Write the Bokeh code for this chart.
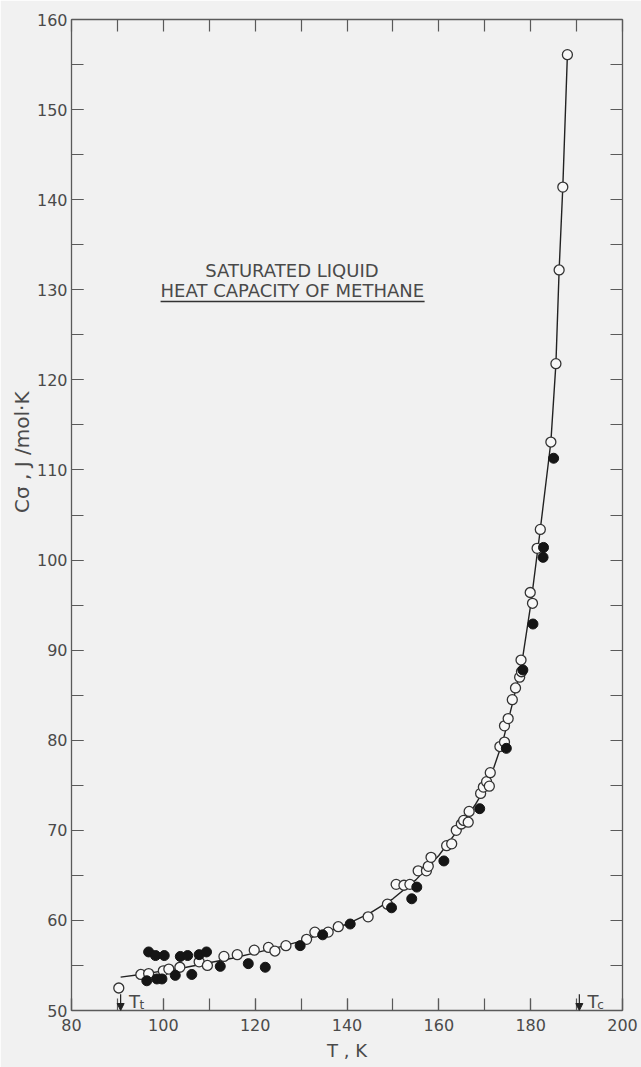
from bokeh.plotting import figure
from bokeh.models import (Range1d, LinearAxis, SingleIntervalTicker, FixedTicker, Label, Arrow,
                          NormalHead, Title)
from bokeh.embed import file_html
from bokeh.resources import INLINE

# ---- data ----
open_T = [90.3, 95.1, 96.8, 100.0, 101.2, 103.6, 107.8, 109.6, 113.2, 116.1, 119.8, 122.9, 124.3,
          126.7, 131.2, 133.0, 135.9, 138.1, 144.6, 148.8, 150.7, 152.4, 153.7, 155.5, 157.3, 157.7,
          158.3, 161.7, 162.8, 163.8, 164.9, 165.4, 166.4, 166.6, 169.1, 169.7, 170.4, 171.0, 171.2,
          173.3, 174.3, 174.3, 175.1, 176.0, 176.7, 177.6, 178.0, 177.9, 179.9, 180.4, 181.4, 182.1,
          184.4, 185.5, 186.2, 187.0, 188.0]
open_C = [52.5, 54.0, 54.1, 54.4, 54.6, 54.8, 55.4, 55.0, 56.0, 56.2, 56.7, 57.0, 56.6,
          57.2, 57.9, 58.7, 58.7, 59.3, 60.4, 61.8, 64.0, 63.9, 64.0, 65.5, 65.5, 66.0,
          67.0, 68.3, 68.5, 70.0, 70.7, 71.1, 70.9, 72.1, 74.1, 74.8, 75.4, 74.9, 76.4,
          79.3, 79.8, 81.6, 82.4, 84.5, 85.8, 87.0, 87.6, 88.9, 96.4, 95.2, 101.3, 103.4,
          113.1, 121.8, 132.2, 141.4, 156.1]

filled_T = [96.8, 98.3, 100.2, 103.7, 105.3, 107.8, 109.4,
            96.4, 98.6, 99.7, 102.6, 106.2, 112.4, 118.5, 122.2,
            129.8, 134.7, 140.7, 149.7, 154.1, 155.2, 161.1, 168.9, 174.7, 178.3, 180.5,
            182.7, 182.8, 185.0]
filled_C = [56.5, 56.1, 56.1, 56.0, 56.1, 56.2, 56.5,
            53.3, 53.5, 53.5, 53.9, 54.0, 54.9, 55.2, 54.8,
            57.2, 58.4, 59.6, 61.4, 62.4, 63.7, 66.6, 72.4, 79.1, 87.8, 92.9,
            100.3, 101.4, 111.3]

curve_T = [90.7, 95, 100, 105, 110, 115, 120, 125, 130, 135, 140, 145, 150, 155, 160, 165, 168,
           170, 172, 174, 176, 178, 180, 182, 184.4, 185.5, 186.2, 187.0, 188.0]
curve_C = [53.7, 54.0, 54.4, 54.8, 55.3, 55.8, 56.4, 57.0, 57.7, 58.6, 59.6, 60.8, 62.4, 64.5,
           67.2, 70.6, 72.9, 74.6, 77.0, 80.0, 84.0, 88.3, 95.0, 103.0, 113.1, 121.8, 132.2,
           141.4, 156.1]

marker_T = [90.7, 190.6]        # triple point, critical point
marker_names = ["t", "c"]

x_ticks_top = list(range(80, 201, 10))
y_ticks_right = list(range(50, 161, 5))

x_title = "T , K"
y_title = "Cσ , J /mol·K"
title_lines = ["SATURATED LIQUID", "HEAT CAPACITY OF METHANE"]

# ---- styling ----
BG = "#f1f1f1"
INK = "#4a4a4a"
AXIS = "#5a5a5a"
FONT = "DejaVu Sans"

p = figure(width=641, height=1067, output_backend="svg", toolbar_location=None,
           x_range=Range1d(80, 200), y_range=Range1d(50, 160),
           min_border_left=71, min_border_right=19, min_border_top=19, min_border_bottom=57,
           background_fill_color=BG, border_fill_color=BG)
p.grid.visible = False
p.outline_line_color = None


def style(ax):
    ax.major_tick_in = 12
    ax.major_tick_out = 0
    ax.minor_tick_in = 12
    ax.minor_tick_out = 0
    ax.axis_line_color = AXIS
    ax.major_tick_line_color = AXIS
    ax.minor_tick_line_color = AXIS
    ax.axis_line_width = 1.3
    ax.major_tick_line_width = 1.2
    ax.minor_tick_line_width = 1.2
    ax.major_label_text_font = FONT
    ax.major_label_text_font_size = "16px"
    ax.major_label_text_color = INK
    ax.axis_label_text_font = FONT
    ax.axis_label_text_font_size = "18px"
    ax.axis_label_text_font_style = "normal"
    ax.axis_label_text_color = INK


xa = p.xaxis[0]
xa.ticker = SingleIntervalTicker(interval=20, num_minor_ticks=2)
style(xa)
xa.major_label_standoff = 8
xa.axis_label = x_title
xa.axis_label_standoff = 6

ya = p.yaxis[0]
ya.ticker = SingleIntervalTicker(interval=10, num_minor_ticks=2)
style(ya)
ya.major_label_standoff = 4

# vertical axis title, placed like the reference (above the middle of the axis)
ytitle = Title(text=y_title, align="right", offset=372, standoff=0, text_font=FONT,
               text_font_size="20px", text_font_style="normal", text_color=INK)
p.add_layout(ytitle, "left")

top = LinearAxis(ticker=FixedTicker(ticks=[], minor_ticks=x_ticks_top))
style(top)
p.add_layout(top, "above")

right = LinearAxis(ticker=FixedTicker(ticks=[], minor_ticks=y_ticks_right))
style(right)
p.add_layout(right, "right")

# curve and data points
p.line(curve_T, curve_C, line_color="#222222", line_width=1.4)
p.scatter(open_T, open_C, size=10, fill_color="#f8f8f8", line_color="#333333", line_width=1.3)
p.scatter(filled_T, filled_C, size=10, fill_color="#151515", line_color="#151515", line_width=1)

# triple / critical point markers
for t, name in zip(marker_T, marker_names):
    p.add_layout(Arrow(end=NormalHead(size=7, fill_color="#222222", line_color="#222222"),
                       x_start=t, y_start=51.8, x_end=t, y_end=50.0,
                       line_color="#222222", line_width=1.2))
    p.add_layout(Label(x=t + 3.0, y=51.0, text="T", text_font=FONT, text_font_size="18px",
                       text_color=INK, text_align="center", text_baseline="middle"))
    p.add_layout(Label(x=t + 4.6, y=50.6, text=name, text_font=FONT, text_font_size="12px",
                       text_color=INK, text_align="center", text_baseline="middle"))

# title
p.add_layout(Label(x=128.0, y=132.1, text=title_lines[0], text_font=FONT, text_font_size="18px",
                   text_color=INK, text_align="center", text_baseline="middle"))
p.add_layout(Label(x=128.1, y=129.9, text=title_lines[1], text_font=FONT, text_font_size="18px",
                   text_color=INK, text_align="center", text_baseline="middle"))
p.segment(x0=[99.4], y0=[128.7], x1=[156.9], y1=[128.7], line_color="#333333", line_width=1.4)

open("out.html", "w").write(file_html(p, INLINE))
